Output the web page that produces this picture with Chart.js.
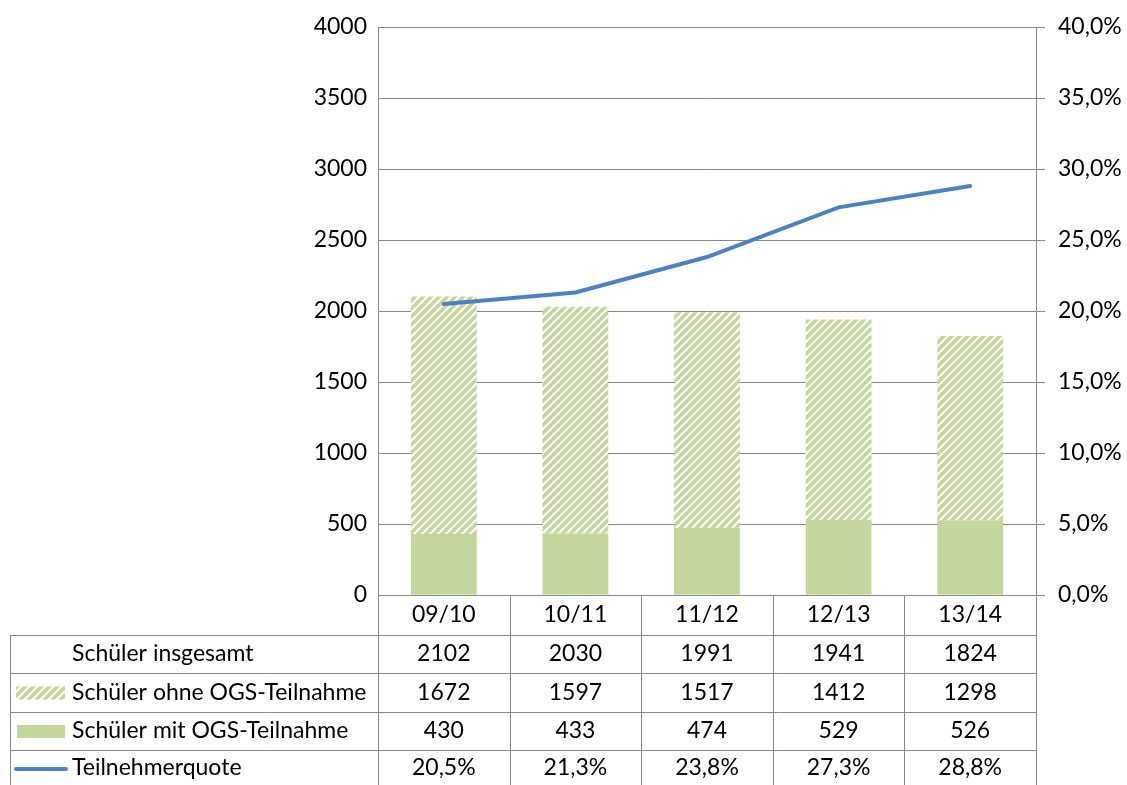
<!DOCTYPE html>
<html>
<head>
<meta charset="utf-8">
<script src="https://cdn.jsdelivr.net/npm/chart.js@4"></script>
<style>
  html, body { margin: 0; padding: 0; background: #fff; }
  #wrap { width: 1127px; height: 785px; position: relative; }
</style>
</head>
<body>
<div id="wrap"><canvas id="ogsChart"></canvas></div>
<script>
var schuljahre = ["09/10", "10/11", "11/12", "12/13", "13/14"];
var schuelerGesamt = [2102, 2030, 1991, 1941, 1824];
var schuelerOhneOgs = [1672, 1597, 1517, 1412, 1298];
var schuelerMitOgs = [430, 433, 474, 529, 526];
var teilnehmerquote = [20.5, 21.3, 23.8, 27.3, 28.8];

var FONT = "Lato, 'Open Sans', sans-serif";
var FSIZE = 23;
var GREEN = "#c3d69b";
var BLUE = "#4f81bd";
var GRID = "#868686";

// diagonal hatch for the "ohne OGS" bars
function makeHatch() {
  var c = document.createElement("canvas");
  c.width = 8; c.height = 8;
  var g = c.getContext("2d");
  g.fillStyle = "#fff";
  g.fillRect(0, 0, 8, 8);
  g.strokeStyle = GREEN;
  g.lineWidth = 3.5;
  g.beginPath();
  g.moveTo(-2, 10); g.lineTo(10, -2);
  g.moveTo(-6, 6); g.lineTo(6, -6);
  g.moveTo(2, 14); g.lineTo(14, 2);
  g.stroke();
  return g.createPattern(c, "repeat");
}
var hatch = makeHatch();

function pct(v) {
  return v.toFixed(1).replace(".", ",") + "%";
}

var rowLabels = ["Schüler insgesamt", "Schüler ohne OGS-Teilnahme", "Schüler mit OGS-Teilnahme", "Teilnehmerquote"];
var rowHeights = [40, 38, 39, 38, 36];

// data table under the plot, drawn on the x scale's columns
var tablePlugin = {
  id: "dataTable",
  afterDraw: function (chart) {
    var ctx = chart.ctx;
    var area = chart.chartArea;
    var xs = chart.scales.x;
    var n = schuljahre.length;
    var colW = (area.right - area.left) / n;
    var tableLeft = 10;

    var ys = [area.bottom];
    rowHeights.forEach(function (h, i) { ys.push(ys[i] + h); });

    ctx.save();
    ctx.strokeStyle = GRID;
    ctx.lineWidth = 1;
    ctx.beginPath();
    // horizontal lines
    ctx.moveTo(area.left, ys[0] + 0.5); ctx.lineTo(area.right, ys[0] + 0.5);
    for (var r = 1; r < ys.length - 1; r++) {
      ctx.moveTo(tableLeft, Math.round(ys[r]) + 0.5);
      ctx.lineTo(area.right, Math.round(ys[r]) + 0.5);
    }
    // vertical lines
    ctx.moveTo(tableLeft + 0.5, ys[1]); ctx.lineTo(tableLeft + 0.5, ys[ys.length - 1]);
    for (var c = 0; c <= n; c++) {
      var x = Math.round(area.left + c * colW) + 0.5;
      ctx.moveTo(x, ys[0]); ctx.lineTo(x, ys[ys.length - 1]);
    }
    ctx.stroke();

    ctx.fillStyle = "#000";
    ctx.font = FSIZE + "px " + FONT;
    ctx.textBaseline = "middle";
    ctx.textAlign = "center";

    var rows = [
      schuljahre,
      schuelerGesamt,
      schuelerOhneOgs,
      schuelerMitOgs,
      teilnehmerquote.map(pct)
    ];
    rows.forEach(function (vals, r) {
      var cy = (ys[r] + ys[r + 1]) / 2;
      vals.forEach(function (v, i) {
        ctx.fillText(String(v), xs.getPixelForValue(i), cy);
      });
    });

    // row labels with legend keys
    ctx.textAlign = "left";
    rowLabels.forEach(function (lbl, r) {
      var cy = (ys[r + 1] + ys[r + 2]) / 2;
      ctx.fillStyle = "#000";
      ctx.fillText(lbl, 72, cy);
      if (r === 1) {
        ctx.fillStyle = hatch;
        ctx.fillRect(16, cy - 6, 49, 13);
      } else if (r === 2) {
        ctx.fillStyle = GREEN;
        ctx.fillRect(17, cy - 6, 48, 13);
      } else if (r === 3) {
        ctx.strokeStyle = BLUE;
        ctx.lineWidth = 4;
        ctx.lineCap = "round";
        ctx.beginPath();
        ctx.moveTo(16, cy + 1); ctx.lineTo(66, cy + 1);
        ctx.stroke();
      }
    });
    ctx.restore();
  }
};

var chart = new Chart(document.getElementById("ogsChart"), {
  type: "bar",
  data: {
    labels: schuljahre,
    datasets: [
      {
        label: "Schüler mit OGS-Teilnahme",
        data: schuelerMitOgs,
        backgroundColor: GREEN,
        stack: "s",
        order: 1
      },
      {
        label: "Schüler ohne OGS-Teilnahme",
        data: schuelerOhneOgs,
        backgroundColor: hatch,
        stack: "s",
        order: 1
      },
      {
        type: "line",
        label: "Teilnehmerquote",
        data: teilnehmerquote,
        yAxisID: "y1",
        borderColor: BLUE,
        borderWidth: 4,
        borderCapStyle: "round",
        pointRadius: 0,
        tension: 0,
        order: 0
      }
    ]
  },
  options: {
    responsive: true,
    maintainAspectRatio: false,
    devicePixelRatio: 1,
    animation: false,
    layout: { padding: { top: 27, bottom: 190, left: 0, right: 0 } },
    datasets: { bar: { barPercentage: 0.5, categoryPercentage: 1 } },
    plugins: { legend: { display: false }, tooltip: { enabled: false } },
    scales: {
      x: {
        display: false,
        stacked: true
      },
      y: {
        stacked: true,
        min: 0,
        max: 4000,
        afterFit: function (s) { s.width = 378; },
        ticks: {
          stepSize: 500,
          padding: 11,
          color: "#000",
          font: { family: FONT, size: FSIZE },
          callback: function (v) { return String(v); }
        },
        grid: { color: GRID, drawTicks: false },
        border: { color: GRID }
      },
      y1: {
        position: "right",
        min: 0,
        max: 40,
        afterFit: function (s) { s.width = 91; },
        ticks: {
          stepSize: 5,
          padding: 13,
          color: "#000",
          font: { family: FONT, size: FSIZE },
          callback: function (v) { return pct(v); }
        },
        grid: { drawOnChartArea: false, color: GRID, tickLength: 9 },
        border: { color: GRID }
      }
    }
  },
  plugins: [tablePlugin]
});
</script>
</body>
</html>
